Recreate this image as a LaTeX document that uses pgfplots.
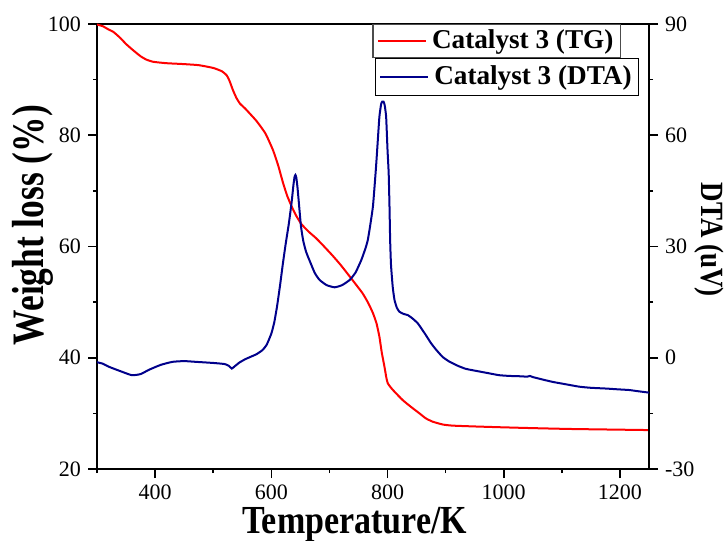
\documentclass[border=0pt]{standalone}
\usepackage{fontspec}
\setmainfont{Liberation Serif}
\usepackage{graphicx}
\usepackage{pgfplots}
\pgfplotsset{compat=1.18}
\usetikzlibrary{calc}

\definecolor{tgred}{RGB}{255,0,0}
\definecolor{dtablue}{RGB}{0,0,139}

% Thermogravimetric weight (%) against temperature (K)
\pgfplotstableread{
T w
300 99.9
310 99.6
320 99.0
328 98.6
340 97.5
350 96.4
362 95.3
375 94.2
385 93.6
397 93.2
420 92.95
448 92.8
475 92.6
500 92.1
515 91.5
523 90.8
528 89.8
534 88.1
540 86.7
546 85.7
555 84.8
563 83.9
575 82.5
590 80.3
603 77.3
612 74.5
620 71.5
627 69.2
635 67.2
643 65.5
652 64.0
665 62.6
677 61.5
690 60.1
706 58.3
720 56.6
738 54.2
757 51.6
767 49.8
775 48.0
781 46.2
786 43.8
790 41.0
794.7 38.4
798 36.4
800.5 35.4
806 34.6
812 33.9
826 32.4
840 31.2
855 30.0
866 29.1
878 28.5
895 28.0
912 27.8
950 27.65
997 27.5
1050 27.35
1113 27.2
1180 27.1
1250 27.0
}\tgdata

% Differential thermal signal (uV) against temperature (K)
\pgfplotstableread{
T d
300 -1.2
310 -1.6
320 -2.4
340 -3.6
360 -4.7
375 -4.4
390 -3.2
410 -1.9
430 -1.1
450 -0.9
470 -1.1
500 -1.4
520 -1.7
527 -2.2
532 -2.9
537 -2.3
545 -1.3
555 -0.4
565 0.3
575 1.0
585 2.1
592 3.5
600 6.5
605 9.5
610 14
615 19.5
620 25.5
625 31
630 36
635 42
638 46.5
640 48.8
641.5 49.3
643 48.6
645 46
647 42.5
651 35.5
655 31.5
660 28.5
669 25.0
675 22.8
683 21
695 19.6
709 19.0
722 19.6
735 21
745 23
755 26.4
762 29.5
766 31.7
770 35.5
775 41
780 51
783 58
786 65
789 68.4
791 69.1
793 69.1
795 68.2
797.6 65
800 56
802 49.7
803.5 40
804.5 31.7
806 25
809 19
812 15.6
816 13.5
820.5 12.4
828 11.8
835 11.5
843 10.6
852 9.3
860 7.5
866 6.1
875 3.9
884 2.1
895 0.2
906 -1.0
920 -2.1
935 -3.0
958 -3.7
975 -4.2
992 -4.7
1010 -4.9
1030 -5.0
1040 -5.1
1045 -4.9
1050 -5.2
1065 -5.8
1084 -6.5
1105 -7.1
1130 -7.8
1150 -8.1
1176 -8.3
1195 -8.5
1216 -8.7
1230 -9.0
1250 -9.4
}\dtadata

\begin{document}
\begin{tikzpicture}
\pgfplotsset{
  frame/.style={
    scale only axis, width=276pt, height=222.5pt,
    xmin=300, xmax=1250,
    tick align=outside,
    major tick length=4.5pt, minor tick length=2pt,
    axis line style={line width=1pt},
    every tick/.style={black, line width=0.8pt},
    tick label style={font=\fontsize{11}{13}\selectfont},
    /pgf/number format/assume math mode=true,
    /pgf/number format/1000 sep={},
    legend cell align=left,
    legend style={
      fill=white, line width=0.6pt,
      font=\fontsize{13.6}{15}\selectfont\bfseries,
      inner xsep=2pt,
      nodes={inner sep=1.5pt},
      column sep=1pt,
    },
  },
}
\begin{axis}[
  frame, name=tg,
  ymin=20, ymax=100,
  xtick={400,600,...,1200}, minor xtick={300,500,...,1100},
  ytick={20,40,...,100}, minor ytick={30,50,...,90},
  xtick pos=bottom, ytick pos=left,
  xlabel={\scalebox{1}[1.17]{\fontsize{17}{20}\selectfont\bfseries Temperature/K}},
  xlabel style={at={(axis description cs:0.467,-0.1438)}, anchor=base},
  ylabel={\scalebox{1}[1.27]{\fontsize{17.7}{20}\selectfont\bfseries Weight loss (\%)}},
  ylabel style={at={(axis description cs:-0.0978,0.548)}, anchor=base},
  legend image code/.code={\draw[#1] (0pt,0pt) -- (24pt,0pt);},
  legend style={draw=black!70, inner ysep=1.2pt, at={(axis description cs:0.499,1)}, anchor=north west},
]
\addplot[tgred, line width=1pt, smooth, tension=0.3] table[x=T, y=w] {\tgdata};
\addlegendentry{Catalyst 3 (TG)}
\end{axis}
\begin{axis}[
  frame,
  axis x line=none, axis y line*=right,
  ymin=-30, ymax=90,
  ytick={-30,0,...,90}, minor ytick={-15,15,45,75},
  ylabel={\scalebox{1}[1.2]{\fontsize{13.5}{16}\selectfont\bfseries DTA (uV)}},
  ylabel style={at={(axis description cs:1.096,0.515)}, anchor=base, rotate=-180},
  legend image code/.code={\draw[#1] (0pt,0pt) -- (24pt,0pt);},
  legend style={draw=black, inner ysep=2.2pt, at={(axis description cs:0.503,0.924)}, anchor=north west},
]
\addplot[dtablue, line width=1pt, smooth, tension=0.3] table[x=T, y=d] {\dtadata};
\addlegendentry{Catalyst 3 (DTA)}
\end{axis}
\pgfresetboundingbox
\path ($(tg.south west)+(-48.5pt,-35.5pt)$) rectangle ($(tg.north east)+(38.5pt,12pt)$);
\end{tikzpicture}
\end{document}
